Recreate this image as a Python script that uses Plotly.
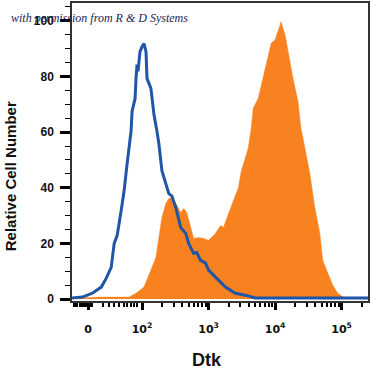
import plotly.graph_objects as go
import numpy as np

# x positions are in display (biexponential) units: 2 -> 10^2, 3 -> 10^3, ...
blue_x = [0.948, 1.104, 1.254, 1.388, 1.463, 1.537, 1.582, 1.627, 1.687, 1.731, 1.776, 1.836,
          1.851, 1.896, 1.910, 1.925, 1.940, 1.970, 2.000, 2.030, 2.060, 2.075, 2.134, 2.179,
          2.224, 2.254, 2.299, 2.358, 2.403, 2.448, 2.507, 2.582, 2.657, 2.701, 2.776, 2.821,
          2.881, 2.955, 3.000, 3.104, 3.254, 3.403, 3.552, 3.701, 5.396]
blue_y = [0.4, 0.7, 2.1, 4.3, 7.5, 11.4, 20.0, 22.9, 31.8, 38.9, 48.6, 60.4,
          67.5, 72.1, 79.3, 84.3, 81.8, 88.9, 90.7, 91.8, 88.9, 79.3, 75.7, 66.4,
          60.4, 55.7, 46.1, 41.8, 37.9, 37.1, 32.9, 25.7, 23.6, 20.0, 16.4, 16.8,
          13.9, 12.9, 10.4, 7.9, 4.3, 2.1, 1.4, 0.4, 0.4]

orange_x = [0.948, 1.358, 1.657, 1.806, 1.910, 2.030, 2.134, 2.209, 2.254, 2.299, 2.358, 2.403,
            2.448, 2.507, 2.582, 2.627, 2.672, 2.731, 2.776, 2.851, 2.925, 3.000, 3.104, 3.179,
            3.224, 3.299, 3.373, 3.448, 3.493, 3.597, 3.642, 3.672, 3.746, 3.821, 3.866, 3.940,
            4.000, 4.045, 4.090, 4.149, 4.194, 4.269, 4.343, 4.388, 4.448, 4.522, 4.597, 4.672,
            4.716, 4.791, 4.866, 4.940, 5.045, 5.396]
orange_y = [0.2, 0.7, 0.7, 0.7, 2.1, 4.3, 10.4, 15.0, 22.1, 29.3, 34.3, 36.1,
            36.4, 34.3, 31.1, 32.5, 31.1, 25.7, 21.8, 22.1, 21.8, 21.1, 23.6, 26.4,
            25.7, 30.7, 35.4, 40.0, 46.1, 54.3, 61.4, 68.6, 72.1, 79.3, 84.6, 91.8,
            93.2, 96.1, 99.6, 95.0, 88.9, 79.3, 71.1, 61.4, 54.3, 45.0, 32.9, 23.6,
            13.9, 9.3, 5.0, 2.1, 0.4, 0.4]

x_tick_vals = [1.19, 2, 3, 4, 5]
x_tick_text = ["0", "10<sup>2</sup>", "10<sup>3</sup>", "10<sup>4</sup>", "10<sup>5</sup>"]
x_low_minor = [0.975, 1.0, 1.03, 1.07, 1.10, 1.13, 1.16, 1.225, 1.255, 1.41, 1.51, 1.585,
               1.66, 1.735, 1.78, 1.84, 1.885, 1.93]
y_tick_vals = [0, 20, 40, 60, 80, 100]

minor_x = list(x_low_minor)
for d in [2, 3, 4]:
    for k in range(2, 10):
        minor_x.append(d + np.log10(k))
minor_x.append(5 + np.log10(2))

fig = go.Figure()
fig.add_trace(go.Scatter(x=orange_x, y=orange_y, mode="lines", fill="tozeroy",
                         fillcolor="#F7821F", line=dict(color="#F7821F", width=0.5),
                         hoverinfo="skip"))
fig.add_trace(go.Scatter(x=blue_x, y=blue_y, mode="lines",
                         line=dict(color="#1F56A8", width=3), hoverinfo="skip"))

fig.update_layout(
    width=371, height=372,
    margin=dict(l=72, r=1, t=1, b=71),
    paper_bgcolor="white", plot_bgcolor="white",
    showlegend=False,
    font=dict(family="Liberation Sans, Arial, sans-serif", color="#111"),
    xaxis=dict(range=[0.948, 5.396], showgrid=False, zeroline=False,
               tickmode="array", tickvals=x_tick_vals, ticktext=x_tick_text,
               ticks="outside", ticklen=7, tickwidth=2.5, tickcolor="black",
               tickfont=dict(size=11, family="DejaVu Sans", color="#111", weight="bold"),
               showline=True, linecolor="#333", linewidth=1.5, mirror=True,
               ticklabelstandoff=10,
               minor=dict(tickmode="array", tickvals=minor_x, ticks="outside",
                          ticklen=4, tickwidth=1.5, tickcolor="black")),
    yaxis=dict(range=[-0.7, 106.4], showgrid=False, zeroline=False,
               tickmode="array", tickvals=y_tick_vals,
               ticks="outside", ticklen=10, tickwidth=3, tickcolor="black",
               tickfont=dict(size=12, family="Liberation Sans, Arial", color="#111",
                             weight="bold"),
               showline=True, linecolor="#333", linewidth=1.5, mirror=True,
               ticklabelstandoff=4,
               minor=dict(dtick=5, tick0=0, ticks="outside", ticklen=5,
                          tickwidth=1.2, tickcolor="black")),
)

fig.add_annotation(text="<b>Relative Cell Number</b>", xref="paper", yref="paper",
                   x=-0.208, y=0.42, xanchor="center", yanchor="middle",
                   textangle=-90, showarrow=False,
                   font=dict(size=15, family="Liberation Sans, Arial", color="#111"))
fig.add_annotation(text="<b>Dtk</b>", xref="paper", yref="paper",
                   x=0.456, y=-0.197, xanchor="center", yanchor="middle",
                   showarrow=False,
                   font=dict(size=18, family="Liberation Sans, Arial", color="#111"))
fig.add_annotation(text="<i>with permission from R &amp; D Systems</i>", xref="paper",
                   yref="paper", x=-0.212, y=0.95, xanchor="left", yanchor="middle",
                   showarrow=False,
                   font=dict(size=12, family="Liberation Serif, serif", color="#1a2450"))

fig.write_html("out.html", config={"displayModeBar": False},
               post_script="document.body.style.margin='0';")
